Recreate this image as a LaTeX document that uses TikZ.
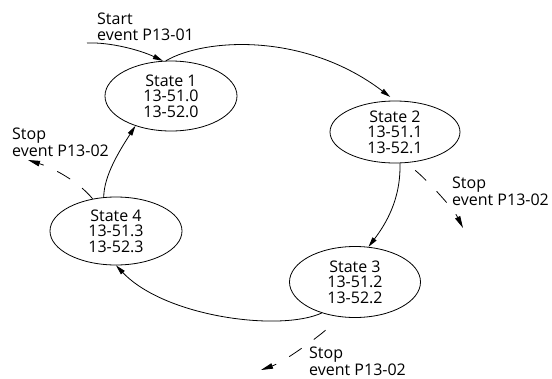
\documentclass[tikz,border=0pt]{standalone}
\usepackage{fontspec}
\setmainfont{Open Sans}
\usetikzlibrary{shapes.geometric,arrows.meta}
\begin{document}
\begin{tikzpicture}[x=1pt,y=-1pt,
  every node/.style={font=\fontsize{16}{15.5}\selectfont},
  statebox/.style={draw,ellipse,inner sep=0pt,align=center,line width=0.8pt},
  lbl/.style={align=left,inner sep=0pt,anchor=north west},
  stoplbl/.style={lbl,font=\fontsize{16}{14}\selectfont},
  flow/.style={line width=0.8pt,-{Triangle[length=10pt,width=5pt]}},
  stoparrow/.style={line width=0.8pt,dash pattern=on 15pt off 15pt,-{Triangle[length=12pt,width=5.5pt]}}]
\useasboundingbox (0,0) rectangle (552,378);
\node[statebox,minimum width=132pt,minimum height=70pt] (s1) at (171,96) {State 1\\13-51.0\\13-52.0};
\node[statebox,minimum width=130pt,minimum height=62pt] (s2) at (395,132) {State 2\\13-51.1\\13-52.1};
\node[statebox,minimum width=131pt,minimum height=71pt] (s3) at (355,282) {State 3\\13-51.2\\13-52.2};
\node[statebox,minimum width=132pt,minimum height=68pt] (s4) at (116,231) {State 4\\13-51.3\\13-52.3};
\node[lbl] (lstart) at (97,13) {Start\\event P13-01};
\node[stoplbl] (lstop2) at (452,177) {Stop\\event P13-02};
\node[stoplbl] (lstop4) at (12,128) {Stop\\event P13-02};
\node[stoplbl] (lstop3) at (309,347) {Stop\\event P13-02};
\coordinate (st) at (87,43);
\coordinate (e2) at (463,228);
\coordinate (e4) at (28,160);
\coordinate (e3) at (261,370);
\draw[flow] (st) .. controls (110,42) and (140,50) .. (s1.103);
\draw[flow,shorten >=6pt] (s1.98) .. controls (205,38) and (305,32) .. (s2.north);
\draw[flow] (s2.-81) .. controls (401,200) and (385,225) .. (s3.69);
\draw[flow] (s3.223) .. controls (280,332) and (165,317) .. (s4.south);
\draw[flow] (s4.110) .. controls (104,175) and (120,150) .. (s1.-140);
\draw[stoparrow,shorten <=12pt] (s2.-71) .. controls (425,178) and (453,208) .. (e2);
\draw[stoparrow] (s4.126) .. controls (78,181) and (53,168) .. (e4);
\draw[stoparrow,shorten <=18pt] (s3.-117) .. controls (323,333) and (286,361) .. (e3);
\end{tikzpicture}
\end{document}
